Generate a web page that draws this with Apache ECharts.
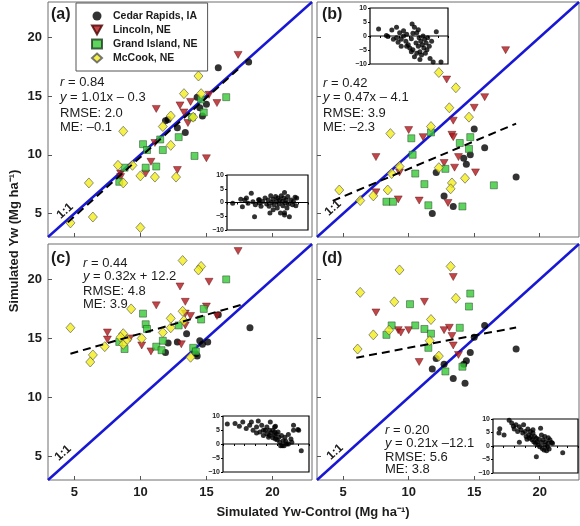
<!DOCTYPE html>
<html><head><meta charset="utf-8">
<script src="https://cdn.jsdelivr.net/npm/echarts@6/dist/echarts.min.js"></script>
<style>html,body{margin:0;padding:0;background:#fff}#c{width:580px;height:526px}</style>
</head><body><div id="c"></div>
<script>
const siteNames = ['Cedar Rapids, IA','Lincoln, NE','Grand Island, NE','McCook, NE'];
const axisMin = 3, axisMax = 23;
const tickValues = [5,10,15,20];
const panelLabels = ['(a)','(b)','(c)','(d)'];
const statR = ['0.84','0.42','0.44','0.20'];
const statEq = ['1.01x \u2013 0.3','0.47x \u2013 4.1','0.32x + 12.2','0.21x \u201312.1'];
const statRMSE = ['2.0','3.9','4.8','5.6'];
const statME = ['\u20130.1','\u20132.3','3.9','3.8'];
const regSlope = [1.01, 0.47, 0.32, 0.21];
const regIntercept = [-0.3, 4.1, 12.2, 12.1];
const regXRange = [[4.5,17.5],[4.2,18.2],[4.7,17.9],[6.0,18.2]];

// panel (a)
const aCedar = [[15.9,17.4],[18.2,17.9],[14.3,14.9],[15.0,14.3],[14.5,14.0],[14.7,13.3],[11.9,12.9],[12.1,13.0],[12.8,12.3],[13.4,11.9]];
const aLincoln = [[17.4,18.5],[11.2,13.9],[13.0,14.2],[13.8,14.5],[13.3,13.6],[13.6,12.7],[15.2,15.1],[15.8,14.4],[10.8,9.4],[15.0,9.7],[12.8,8.7],[8.5,8.4],[8.5,8.1],[10.4,8.4],[11.1,11.0]];
const aGrand = [[16.5,14.9],[14.8,13.6],[13.9,13.2],[12.9,11.5],[11.5,11.3],[10.2,10.9],[10.5,10.4],[11.7,10.4],[14.1,9.9],[11.2,9.0],[10.4,8.9],[8.8,8.9],[8.4,7.7],[14.6,14.7]];
const aMcCook = [[14.4,16.7],[13.3,15.2],[14.6,15.2],[12.3,13.3],[11.7,12.4],[8.7,12.0],[12.3,10.8],[14.0,13.2],[8.3,9.1],[9.4,9.1],[10.0,8.2],[11.1,8.1],[12.7,8.1],[8.7,7.6],[6.1,7.6],[6.4,4.7],[4.7,4.2],[10.0,3.8]];
// panel (b)
const bCedar = [[15.0,12.2],[15.8,10.6],[14.7,10.0],[14.2,9.7],[14.4,9.2],[18.2,8.1],[12.1,8.5],[12.7,6.5],[13.4,5.6],[11.8,5.0]];
const bLincoln = [[17.4,18.9],[12.9,16.4],[15.8,14.9],[15.0,14.0],[13.4,12.9],[10.0,12.1],[11.1,11.5],[13.3,11.7],[13.4,11.5],[7.5,9.8],[13.8,9.8],[12.7,9.3],[13.5,8.9],[15.1,8.5],[9.3,8.5],[7.5,6.8],[9.2,6.2],[10.8,6.1],[13.0,5.9]];
const bGrand = [[11.7,11.9],[10.2,11.4],[14.7,11.5],[13.9,11.0],[14.6,10.5],[10.3,10.0],[10.5,8.4],[12.8,8.8],[11.2,7.5],[16.5,7.4],[8.3,6.0],[8.8,6.0],[11.5,5.7],[14.1,5.6]];
const bMcCook = [[12.3,17.0],[13.6,15.7],[13.1,14.0],[14.6,13.2],[11.7,12.4],[8.6,11.8],[9.3,9.0],[12.3,8.9],[14.3,8.0],[8.7,8.4],[13.3,7.6],[13.2,7.1],[8.4,7.0],[7.3,6.5],[6.3,6.1],[4.7,7.0]];
// panel (c)
const cCedar = [[18.3,15.9],[15.9,17.0],[13.5,15.4],[12.8,14.7],[12.1,14.6],[11.9,13.8],[14.5,14.8],[14.7,14.5],[15.1,14.7],[14.2,13.7],[14.3,13.5]];
const cLincoln = [[17.4,22.4],[15.2,19.8],[13.0,19.4],[11.2,17.8],[13.4,18.1],[15.0,17.7],[13.4,17.1],[13.8,16.9],[15.8,16.9],[13.4,16.1],[7.5,15.5],[7.5,14.9],[9.2,15.0],[10.1,14.4],[13.1,14.5],[10.8,13.9]];
const cGrand = [[16.5,20.0],[14.8,17.5],[10.2,17.1],[10.4,16.2],[10.5,15.8],[14.6,16.6],[12.9,16.1],[11.7,14.8],[8.4,14.7],[11.2,14.3],[11.6,14.0],[8.8,14.1],[14.0,14.2],[14.2,13.9]];
const cMcCook = [[13.2,21.6],[14.6,21.1],[14.4,20.8],[9.3,17.5],[13.2,17.3],[13.3,16.5],[12.3,16.7],[4.7,15.9],[12.3,15.9],[11.7,15.5],[8.7,15.4],[8.5,15.1],[10.1,15.0],[8.7,14.5],[7.3,14.3],[6.4,13.6],[6.2,13.0],[13.8,13.4],[9.0,14.9]];
// panel (d)
const dCedar = [[18.2,14.1],[15.8,16.1],[15.0,15.1],[14.7,13.8],[14.4,13.1],[14.2,12.8],[12.1,13.3],[12.7,12.8],[11.8,12.4],[13.4,11.6],[14.3,11.2]];
const dLincoln = [[13.4,20.2],[11.2,18.1],[7.5,17.2],[9.2,15.7],[9.4,15.5],[10.0,15.7],[12.7,15.7],[13.1,15.9],[13.3,15.2],[13.4,14.4],[13.8,13.6],[10.8,13.0]];
const dGrand = [[14.7,18.8],[14.6,17.7],[10.1,17.9],[10.5,16.1],[11.2,15.8],[11.7,15.4],[13.9,15.9],[8.7,16.1],[8.3,15.3],[11.5,14.2],[12.8,12.2],[14.1,12.6]];
const dMcCook = [[13.2,21.1],[9.3,20.8],[6.3,18.9],[13.6,18.4],[8.9,18.1],[11.7,16.6],[8.5,15.7],[7.3,15.3],[11.6,14.8],[6.1,14.1],[12.3,13.5]];

// residual insets (x: relative position 0-10, y: residual)
const insetA = [[0.7,-0.3],[1.7,1.2],[1.9,-1.5],[2.4,1.6],[3.0,3.4],[3.2,0.3],[3.5,-0.8],[3.4,-5.2],[3.9,1.0],[4.0,-0.2],[4.2,-1.4],[4.4,0.4],[4.7,1.6],[4.9,-0.5],[5.1,0.9],[5.2,-1.4],[5.4,2.5],[5.5,0.0],[5.7,1.2],[5.8,-0.8],[6.0,2.2],[6.1,0.4],[6.2,-2.0],[6.3,1.6],[6.4,-0.5],[6.5,0.9],[6.6,-3.8],[6.7,2.5],[6.8,0.4],[6.9,-1.2],[7.0,1.6],[7.1,-4.5],[7.2,-0.2],[7.3,0.9],[7.4,-2.0],[7.5,2.2],[7.6,-0.5],[7.7,-5.2],[7.1,3.6],[7.9,0.9],[8.1,-0.8],[8.2,0.4],[8.4,1.9],[8.5,-1.2],[7.1,-3.7],[5.7,-2.6],[5.3,-3.8],[2.6,-0.3],[2.2,0.9],[8.6,1.6],[4.0,1.0]];
const insetB = [[1.1,2.5],[2.1,0.2],[2.8,2.1],[3.4,3.1],[2.3,-0.2],[3.0,-1.2],[3.4,-0.6],[3.6,-2.2],[3.8,1.2],[4.0,-1.2],[4.3,1.9],[4.3,0.0],[4.6,-1.9],[4.7,0.6],[4.9,-3.1],[5.1,-4.3],[5.3,-1.0],[5.4,4.3],[5.5,-4.9],[5.7,3.1],[5.9,-2.5],[6.0,-6.2],[6.0,1.2],[6.2,-3.7],[6.3,-0.6],[6.4,-5.6],[6.5,-1.9],[6.6,-6.8],[6.7,-3.1],[6.8,0.0],[6.9,-4.3],[7.0,-1.2],[7.1,-6.2],[7.2,-2.5],[7.3,-4.9],[7.4,-0.6],[7.6,-3.7],[7.7,-8.0],[7.9,-1.9],[6.4,-8.4],[5.7,-7.4],[8.1,-9.3],[9.1,-9.3],[8.5,1.5],[6.2,2.2],[5.5,1.0],[4.0,-3.7],[4.7,-3.7],[5.3,-5.6]];
const insetC = [[0.5,7.1],[1.4,7.3],[2.3,7.9],[3.3,7.9],[4.1,8.2],[1.9,6.3],[2.7,5.5],[3.1,6.7],[3.5,4.9],[3.9,6.1],[4.3,4.3],[4.5,6.7],[4.7,3.0],[4.9,4.9],[5.1,3.7],[5.3,2.4],[5.4,4.9],[5.4,3.0],[5.5,7.9],[5.6,3.9],[5.8,2.2],[5.8,4.9],[6.0,3.0],[6.0,6.1],[6.1,1.8],[6.2,3.7],[6.3,1.5],[6.4,4.3],[6.5,2.4],[6.6,0.6],[6.7,-0.6],[6.8,3.0],[6.9,-0.6],[7.0,1.2],[7.1,-0.6],[7.2,2.4],[7.3,1.0],[7.4,0.0],[6.1,6.3],[6.0,4.3],[5.1,6.1],[7.6,3.4],[7.9,1.8],[8.0,0.6],[8.2,4.9],[8.8,4.9],[8.2,6.7],[8.7,5.2],[9.1,-2.4],[7.6,0.0],[3.9,3.9],[4.7,4.9]];
const insetD = [[0.7,4.8],[0.8,6.4],[1.3,4.1],[1.9,9.5],[2.2,8.5],[2.4,7.3],[2.5,6.3],[2.7,7.9],[2.9,5.4],[3.1,1.4],[3.1,7.1],[3.3,6.0],[3.5,4.8],[3.6,7.9],[3.8,5.4],[3.9,3.5],[4.1,6.3],[4.2,4.1],[4.3,2.9],[4.4,5.4],[4.5,3.5],[4.6,2.3],[4.7,4.8],[4.8,1.6],[4.9,3.5],[5.0,1.0],[5.1,2.9],[5.2,1.6],[5.1,-4.0],[5.3,0.4],[5.4,2.5],[5.5,-0.3],[5.6,6.6],[5.7,1.3],[5.8,-0.9],[5.9,2.3],[6.0,-1.5],[6.1,0.4],[6.2,1.6],[6.3,-1.8],[6.4,-0.3],[6.5,1.0],[6.6,-1.1],[6.7,2.3],[6.9,1.3],[7.0,1.0],[6.1,3.5],[5.7,4.1],[8.2,-2.5],[6.5,3.1],[4.0,2.5],[4.7,6.0]];

const panelData = [
  [aCedar, aLincoln, aGrand, aMcCook],
  [bCedar, bLincoln, bGrand, bMcCook],
  [cCedar, cLincoln, cGrand, cMcCook],
  [dCedar, dLincoln, dGrand, dMcCook]
];
const insetData = [insetA, insetB, insetC, insetD];

const FONT = '"Liberation Sans", Arial, sans-serif';
const TXT = '#1c1c1c';
const markerStyles = [
  {symbol:'circle', symbolSize:7, itemStyle:{color:'#000', borderColor:'#000', borderWidth:0}},
  {symbol:'path://M0,0L10,0L5,9Z', symbolSize:[8,7], itemStyle:{color:'#b3181c', borderColor:'#4a0000', borderWidth:0.5}},
  {symbol:'rect', symbolSize:7, itemStyle:{color:'#36c936', borderColor:'#1d3d1d', borderWidth:0.6}},
  {symbol:'diamond', symbolSize:[9,10], itemStyle:{color:'#f2ee1c', borderColor:'#555', borderWidth:0.8}}
];

const mainGrids = [
  {left:48, top:2, width:264, height:235},
  {left:317, top:2, width:262, height:235},
  {left:48, top:244, width:264, height:236},
  {left:317, top:244, width:262, height:236}
];
const insetGrids = [
  {left:227, top:175, width:81, height:55},
  {left:370, top:8, width:78, height:56},
  {left:223, top:416, width:86, height:56},
  {left:493, top:419, width:85, height:54}
];

const grid = [];
const xAxis = [];
const yAxis = [];
const series = [];

mainGrids.forEach((g, p) => {
  grid.push(Object.assign({show:true, borderColor:'#6e6e6e', borderWidth:1, backgroundColor:'#fff'}, g));
  const bottom = p >= 2, left = (p % 2) === 0;
  xAxis.push({
    gridIndex:p, type:'value', min:axisMin, max:axisMax,
    axisLine:{show:false}, splitLine:{show:false},
    axisTick:{show:true, inside:true, length:4, customValues:tickValues, lineStyle:{color:'#555'}},
    axisLabel:{show:bottom, customValues:tickValues, margin:6, fontSize:13, fontWeight:'bold', fontFamily:FONT, color:TXT}
  });
  yAxis.push({
    gridIndex:p, type:'value', min:axisMin, max:axisMax,
    axisLine:{show:false}, splitLine:{show:false},
    axisTick:{show:true, inside:true, length:4, customValues:tickValues, lineStyle:{color:'#555'}},
    axisLabel:{show:left, customValues:tickValues, margin:6, fontSize:13, fontWeight:'bold', fontFamily:FONT, color:TXT}
  });
});
insetGrids.forEach((g, k) => {
  const gi = 4 + k;
  grid.push(Object.assign({show:true, borderColor:'#000', borderWidth:1.2, backgroundColor:'#fff', z:9}, g));
  xAxis.push({
    gridIndex:gi, type:'value', min:0, max:10, interval:1.25, z:10,
    axisLine:{show:false}, splitLine:{show:false},
    axisTick:{show:true, inside:false, length:2, lineStyle:{color:'#000'}},
    axisLabel:{show:false}
  });
  yAxis.push({
    gridIndex:gi, type:'value', min:-10, max:10, interval:5, z:10,
    axisLine:{show:false}, splitLine:{show:false},
    axisTick:{show:true, inside:false, length:2, lineStyle:{color:'#000'}},
    axisLabel:{show:true, margin:3, fontSize:7, fontWeight:'bold', fontFamily:FONT, color:TXT,
      formatter: v => String(v).replace('-', '\u2212')}
  });
});

panelData.forEach((sets, p) => {
  series.push({
    type:'line', xAxisIndex:p, yAxisIndex:p, silent:true, symbol:'none', z:2,
    data:[[axisMin,axisMin],[axisMax,axisMax]],
    lineStyle:{color:'#1717d4', width:2.5}
  });
  sets.forEach((d, s) => {
    const m = markerStyles[s];
    series.push({
      type:'scatter', name:siteNames[s], xAxisIndex:p, yAxisIndex:p, z:3,
      symbol:m.symbol, symbolSize:m.symbolSize, itemStyle:m.itemStyle, data:d
    });
  });
  const r = regXRange[p];
  series.push({
    type:'line', xAxisIndex:p, yAxisIndex:p, silent:true, symbol:'none', z:4,
    data: r.map(x => [x, regSlope[p]*x + regIntercept[p]]),
    lineStyle:{color:'#000', width:2, type:[8,5]}
  });
});
insetData.forEach((d, k) => {
  const gi = 4 + k;
  series.push({
    type:'line', xAxisIndex:gi, yAxisIndex:gi, silent:true, symbol:'none', z:11,
    data:[[0,0],[10,0]], lineStyle:{color:'#000', width:1.2}
  });
  series.push({
    type:'scatter', xAxisIndex:gi, yAxisIndex:gi, z:12, symbol:'circle', symbolSize:5,
    itemStyle:{color:'#000'}, data:d
  });
});

// annotations
const statPos = [[60,[82,97,113,127]],[323,[83,97,113,127]],[83,[263,276,291,304]],[385,[430,443,457,469]]];
const labelPos = [[51,15],[322,15],[51,259],[322,259]];
const onePos = [[65,211],[333,208],[63,453],[335,452]];
const graphic = [];
const rich = {i:{fontStyle:'italic', fontSize:13, fontFamily:FONT, fill:TXT}};
statPos.forEach(([x, ys], p) => {
  const lines = ['{i|r} = ' + statR[p], '{i|y} = ' + statEq[p], 'RMSE: ' + statRMSE[p], 'ME: ' + statME[p]];
  lines.forEach((t, j) => graphic.push({
    type:'text', x:x, y:ys[j], z:20, silent:true,
    style:{text:t, rich:rich, fontSize:13, fontFamily:FONT, fill:TXT, align:'left', verticalAlign:'middle'}
  }));
  graphic.push({type:'text', x:labelPos[p][0], y:labelPos[p][1], z:20, silent:true,
    style:{text:panelLabels[p], fontSize:16, fontWeight:'bold', fontFamily:FONT, fill:TXT, align:'left', verticalAlign:'middle'}});
  graphic.push({type:'text', x:onePos[p][0], y:onePos[p][1], z:20, silent:true, rotation:0.73,
    style:{text:'1:1', fontSize:12, fontWeight:'bold', fontFamily:FONT, fill:TXT, align:'center', verticalAlign:'middle'}});
});
graphic.push({type:'text', x:313, y:512, z:20, silent:true,
  style:{text:'Simulated Yw-Control (Mg ha\u207B\u00B9)', fontSize:13, fontWeight:'bold', fontFamily:FONT, fill:TXT, align:'center', verticalAlign:'middle'}});
graphic.push({type:'text', x:14, y:241, z:20, silent:true, rotation:Math.PI/2,
  style:{text:'Simulated Yw (Mg ha\u207B\u00B9)', fontSize:13, fontWeight:'bold', fontFamily:FONT, fill:TXT, align:'center', verticalAlign:'middle'}});

const chart = echarts.init(document.getElementById('c'));
chart.setOption({
  animation:false,
  backgroundColor:'#fff',
  grid, xAxis, yAxis, series, graphic,
  legend:{
    data:siteNames, orient:'vertical', left:76, top:3,
    backgroundColor:'#fff', borderColor:'#555', borderWidth:1, borderRadius:0,
    padding:[6,10,6,15], itemGap:0, itemWidth:10, itemHeight:9,
    textStyle:{fontSize:10.5, fontWeight:'bold', fontFamily:FONT, color:TXT, lineHeight:14, padding:[0,0,0,6]}
  }
});
</script>
</body></html>
